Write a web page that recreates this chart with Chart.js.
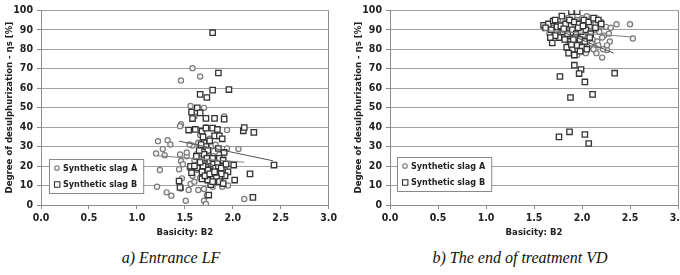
<!DOCTYPE html>
<html>
<head>
<meta charset="utf-8">
<script src="https://cdn.jsdelivr.net/npm/chart.js@4/dist/chart.umd.min.js"></script>
<style>
  html, body { margin: 0; padding: 0; background: #fff; width: 680px; height: 275px; overflow: hidden; }
  .wrap { position: absolute; top: 0; height: 245px; }
  .caption { position: absolute; top: 249px; font-family: "Liberation Serif", "Times New Roman", serif; font-style: italic; font-size: 16px; color: #111; text-align: center; }
</style>
</head>
<body>
<div class="wrap" style="left:0;width:340px"><canvas id="chartA" width="340" height="245"></canvas></div>
<div class="wrap" style="left:340px;width:360px"><canvas id="chartB" width="360" height="245"></canvas></div>
<div class="caption" style="left:71px;width:200px">a) Entrance LF</div>
<div class="caption" style="left:420px;width:200px">b) The end of treatment VD</div>
<script>
// axis setup
const xTicks = [0.0, 0.5, 1.0, 1.5, 2.0, 2.5, 3.0];
const yTicks = [0, 10, 20, 30, 40, 50, 60, 70, 80, 90, 100];
const seriesNames = ['Synthetic slag A', 'Synthetic slag B'];

// a) entrance LF  [basicity, desulphurization]
const entranceSlagA = [
  [1.58,70.3],[1.46,64],[1.66,66],[1.56,50.9],[1.70,49.9],[1.60,45.5],[1.91,45.5],[1.46,41.5],
  [1.45,40.5],[1.72,40],[1.94,38.5],[1.32,33.3],[1.22,32.8],[1.35,31.1],[1.27,28.7],[1.20,26.5],
  [1.29,25.6],[1.45,26],[1.52,25],[1.46,22.6],[1.48,20.9],[1.44,18.3],[1.24,18],[1.21,9.4],
  [1.31,6.5],[1.36,4.8],[1.46,8.5],[1.51,2.2],[1.54,7.7],[1.56,10.8],[1.64,7.7],[1.70,2.2],
  [1.72,0.5],[1.70,8.2],[1.70,29.8],[2.12,3.1],[2.06,28.7],[1.94,29],[1.58,30.5],[1.62,26],
  [1.60,23],[1.65,24],[1.55,19],[1.62,18],[1.68,21],[1.75,27],[1.78,30],[1.80,25],[1.83,22],
  [1.86,26],[1.90,24],[1.92,18],[1.88,14],[1.84,12],[1.78,16],[1.72,13],[1.66,14],[1.60,12],
  [1.58,15],[1.76,34],[1.66,36],[1.82,31],[1.98,21],[1.95,10],[1.73,5],[1.88,20],[1.52,27],
  [1.64,32],[1.80,19],[1.74,23],[1.47,13.7],[1.79,9.4],[1.89,9.4],[1.55,31.1]
];
const entranceSlagB = [
  [1.79,88.5],[1.85,67.8],[1.79,59],[1.96,59.3],[1.66,56.8],[1.73,55.2],[1.63,49.9],[1.57,47.7],
  [1.66,47.3],[1.58,44.4],[1.72,44.5],[1.81,44.5],[1.91,44.1],[1.54,38.5],[1.61,38.8],[1.68,37.9],
  [1.72,39.5],[1.79,39.5],[1.84,38.8],[2.11,38.1],[2.12,39.8],[2.22,37.3],[1.69,35],[1.81,35.5],
  [1.86,35.5],[1.89,34],[2.43,20.5],[2.18,16],[2.02,12.8],[2.21,3.9],[1.44,12.3],[1.45,9],
  [1.56,19.9],[1.57,16.6],[1.75,5.1],[1.77,10.4],[1.68,13.4],[1.74,12.8],[2.01,20.5],[1.70,32],
  [1.72,30],[1.74,28],[1.70,26],[1.73,24],[1.76,22],[1.78,20],[1.80,21],[1.82,19],[1.85,20],
  [1.88,19],[1.84,22],[1.79,24],[1.86,24],[1.90,23],[1.93,21],[1.95,17],[1.92,15],[1.88,16],
  [1.83,14],[1.79,12],[1.74,18],[1.69,20],[1.66,22],[1.63,19],[1.60,20],[1.68,17],[1.71,15],
  [1.76,16],[1.81,17],[1.86,12],[1.90,11],[1.65,28],[1.67,31],[1.85,29],[1.91,27],[1.76,33],[1.62,25]
];
const entranceTrendA = [[1.21,25.3],[2.12,22]];
const entranceTrendB = [[1.44,32.8],[2.42,22.7]];

// b) end of treatment VD
const endSlagA = [
  [2.36,92.8],[2.50,92.8],[2.53,85.5],[2.21,75.7],[2.26,79.6],[2.29,84],[1.95,77],[2.05,80],[2.15,78],
  [1.75,93],[1.80,95],[1.85,96],[1.90,97],[1.95,95],[2.00,96],[2.05,97],[2.10,95],[2.15,96],
  [2.20,94],[2.25,91.5],[2.30,91],[1.82,91],[1.88,92],[1.93,90],[1.98,92],[2.03,91],[2.08,92],
  [2.13,90],[2.18,89],[2.23,87],[2.28,88],[1.78,88],[1.84,87],[1.90,86],[1.96,88],[2.01,87],
  [2.06,86],[2.11,85],[2.16,84],[2.21,86],[2.26,82],[1.86,83],[1.92,82],[1.97,84],[2.02,82],
  [2.07,81],[2.12,80],[2.17,82],[2.22,80],[1.88,79],[1.94,80],[2.00,79],[2.04,78],[2.10,83],
  [1.70,91],[1.66,88],[2.14,93],[2.19,92],[1.99,94]
];
const endSlagB = [
  [1.77,66],[1.92,71.8],[1.99,69.6],[1.97,67.5],[2.03,63.2],[1.88,55.2],[2.11,56.8],[2.34,67.7],
  [1.69,83.2],[1.76,35],[1.87,37.6],[2.03,36.2],[2.07,31.6],[1.60,92.3],[1.65,93],[1.70,94.5],
  [1.72,95],[1.79,97],[1.89,99.3],[1.95,99.3],[1.62,91],[1.68,90],[1.74,91.5],[1.78,92],[1.83,93],
  [1.87,95],[1.92,94],[1.97,93],[2.02,95],[2.07,94],[2.12,96],[2.17,95],[2.20,93],[1.80,89],
  [1.85,88],[1.90,90],[1.94,88],[1.99,89],[2.04,90],[2.09,88],[2.14,91],[1.76,86],[1.82,85],
  [1.88,84],[1.93,86],[1.98,85],[2.03,84],[2.08,86],[1.84,81],[1.90,80],[1.95,82],[2.00,81],
  [2.05,80],[1.86,78],[1.92,77],[1.98,79],[1.72,87],[1.67,86],[1.89,82.5],[1.96,91],[2.01,92],
  [1.81,90.5],[1.91,85]
];
const endTrendA = [[1.60,89.7],[2.52,86.3]];
const endTrendB = [[1.60,93],[2.33,78]];

const FONT = '"Liberation Sans Narrow", "DejaVu Sans Condensed", "Liberation Sans", sans-serif';
const TEXT = '#222';
const toXY = arr => arr.map(p => ({ x: p[0], y: p[1] }));

const styleA = { pointStyle: 'circle', pointRadius: 2.6, borderColor: '#7a7a7a', backgroundColor: '#f4f4f4', borderWidth: 1.2 };
const styleB = { pointStyle: 'rect', pointRadius: 3.8, borderColor: '#333', backgroundColor: '#fafafa', borderWidth: 1.3 };

// legend box drawn inside the plot
const boxLegend = {
  id: 'boxLegend',
  afterDraw(chart, args, opts) {
    const { ctx, chartArea } = chart;
    ctx.save();
    ctx.font = 'bold 9px ' + FONT;
    const textW = Math.max(...seriesNames.map(n => ctx.measureText(n).width));
    const left = chartArea.left + opts.dx, w = Math.max(85, textW + 20), h = 34;
    const top = chartArea.bottom - opts.dy - h;
    ctx.fillStyle = '#fff';
    ctx.fillRect(left, top, w, h);
    ctx.strokeStyle = '#8a8a8a';
    ctx.lineWidth = 1;
    ctx.strokeRect(left + 0.5, top + 0.5, w, h);
    ctx.textBaseline = 'middle';
    [styleA, styleB].forEach((st, i) => {
      const cy = top + 9 + i * 16.5;
      ctx.lineWidth = 1.1;
      ctx.strokeStyle = st.borderColor;
      ctx.fillStyle = st.backgroundColor;
      ctx.beginPath();
      if (st.pointStyle === 'circle') ctx.arc(left + 8, cy, 2.3, 0, Math.PI * 2);
      else ctx.rect(left + 5.5, cy - 2.7, 5.4, 5.4);
      ctx.fill(); ctx.stroke();
      ctx.fillStyle = TEXT;
      ctx.fillText(seriesNames[i], left + 14, cy + 0.5);
    });
    ctx.restore();
  }
};

function makeChart(id, slagA, slagB, trendA, trendB, pad, legendPos) {
  return new Chart(document.getElementById(id), {
    type: 'scatter',
    data: {
      datasets: [
        Object.assign({ label: seriesNames[0], data: toXY(slagA), order: 2 }, styleA),
        Object.assign({ label: seriesNames[1], data: toXY(slagB), order: 1 }, styleB),
        { type: 'line', data: toXY(trendA), borderColor: '#808080', borderWidth: 1, pointRadius: 0, order: 0 },
        { type: 'line', data: toXY(trendB), borderColor: '#555', borderWidth: 1, pointRadius: 0, order: 0 }
      ]
    },
    options: {
      responsive: false,
      animation: false,
      layout: { padding: pad },
      plugins: { legend: { display: false }, tooltip: { enabled: false }, boxLegend: legendPos },
      scales: {
        x: {
          min: 0, max: 3,
          afterBuildTicks: s => { s.ticks = xTicks.map(v => ({ value: v })); },
          afterFit: s => { s.height = 40; },
          border: { color: '#8c8c8c', width: 1 },
          grid: {
            drawOnChartArea: true, tickLength: 4, tickColor: '#8c8c8c',
            color: c => (c.tick && c.tick.value === 3 ? '#8c8c8c' : 'rgba(0,0,0,0)')
          },
          ticks: { padding: 3, color: TEXT, font: { family: FONT, size: 10.5, weight: 'bold' }, callback: v => v.toFixed(1), maxRotation: 0 },
          title: { display: true, text: 'Basicity: B2', color: TEXT, font: { family: FONT, size: 9.5, weight: 'bold' }, padding: { top: 0, bottom: 7 } }
        },
        y: {
          min: 0, max: 100,
          afterBuildTicks: s => { s.ticks = yTicks.map(v => ({ value: v })); },
          afterFit: s => { s.width = 41; },
          border: { color: '#8c8c8c', width: 1 },
          grid: { color: '#a0a0a0', tickLength: 4, tickColor: '#8c8c8c' },
          ticks: { padding: 4, color: TEXT, font: { family: FONT, size: 10.5, weight: 'bold' } },
          title: { display: true, text: 'Degree of desulphurization - \u03b7s [%]', color: TEXT, font: { family: FONT, size: 9.5, weight: 'bold' }, padding: { top: 4, bottom: 0 } }
        }
      }
    },
    plugins: [boxLegend]
  });
}

makeChart('chartA', entranceSlagA, entranceSlagB, entranceTrendA, entranceTrendB,
  { top: 10, left: 0, right: 9, bottom: 0 }, { dx: 8, dy: 12 });
makeChart('chartB', endSlagA, endSlagB, endTrendA, endTrendB,
  { top: 10, left: 9, right: 22, bottom: 0 }, { dx: 7, dy: 14 });
</script>
</body>
</html>
